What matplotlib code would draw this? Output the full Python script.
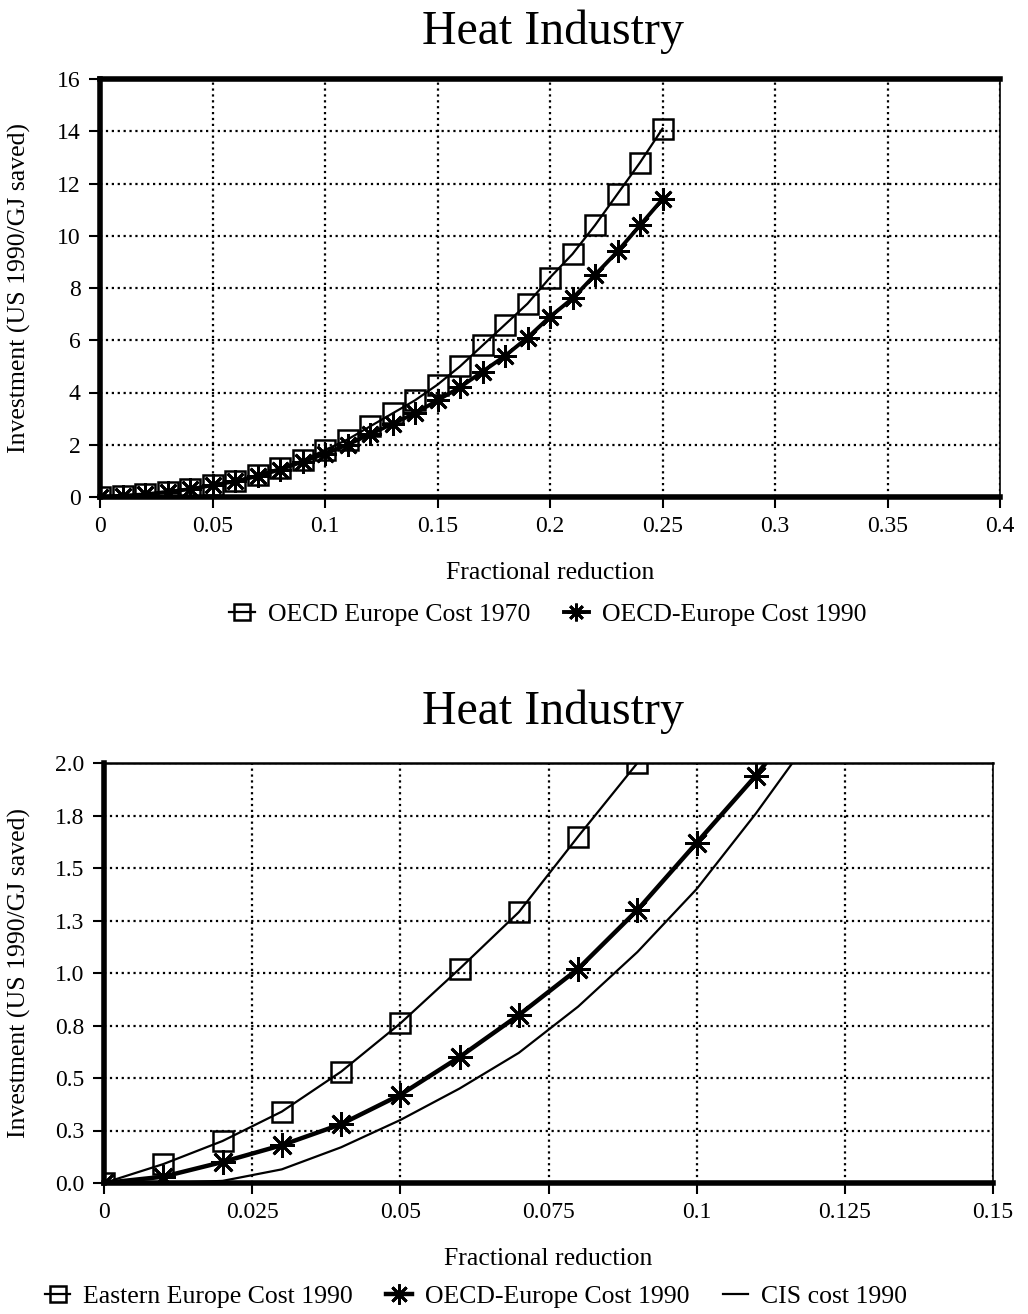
import matplotlib
matplotlib.use("Agg")
import matplotlib.pyplot as plt
import numpy as np

plt.rcParams['font.family'] = ['Liberation Serif', 'DejaVu Serif']

# ---- Top chart data ----
top_x = [0.00, 0.01, 0.02, 0.03, 0.04, 0.05, 0.06, 0.07, 0.08, 0.09, 0.10, 0.11, 0.12,
         0.13, 0.14, 0.15, 0.16, 0.17, 0.18, 0.19, 0.20, 0.21, 0.22, 0.23, 0.24, 0.25]
oecd_1970 = [0.0, 0.05, 0.1, 0.2, 0.3, 0.45, 0.6, 0.85, 1.1, 1.4, 1.8, 2.2, 2.7,
             3.2, 3.7, 4.3, 5.0, 5.8, 6.6, 7.4, 8.4, 9.3, 10.4, 11.6, 12.8, 14.1]
oecd_1990_top = [0.0, 0.05, 0.1, 0.2, 0.3, 0.45, 0.6, 0.8, 1.05, 1.35, 1.65, 2.0, 2.4,
                 2.8, 3.2, 3.7, 4.2, 4.8, 5.4, 6.1, 6.9, 7.6, 8.5, 9.4, 10.4, 11.4]
top_xticks = [0, 0.05, 0.1, 0.15, 0.2, 0.25, 0.3, 0.35, 0.4]
top_xlabels = ["0", "0.05", "0.1", "0.15", "0.2", "0.25", "0.3", "0.35", "0.4"]
top_yticks = [0, 2, 4, 6, 8, 10, 12, 14, 16]

# ---- Bottom chart data ----
eastern_x = [0.00, 0.01, 0.02, 0.03, 0.04, 0.05, 0.06, 0.07, 0.08, 0.09]
eastern_1990 = [0.0, 0.09, 0.2, 0.34, 0.53, 0.76, 1.02, 1.29, 1.65, 2.0]
oecd_x = [0.00, 0.01, 0.02, 0.03, 0.04, 0.05, 0.06, 0.07, 0.08, 0.09, 0.10, 0.11, 0.12]
oecd_1990_bot = [0.0, 0.03, 0.1, 0.18, 0.28, 0.42, 0.6, 0.8, 1.02, 1.3, 1.62, 1.94, 2.3]
cis_x = [0.00, 0.01, 0.02, 0.03, 0.04, 0.05, 0.06, 0.07, 0.08, 0.09, 0.10, 0.11, 0.12]
cis_1990 = [0.0, 0.0, 0.01, 0.065, 0.17, 0.3, 0.45, 0.62, 0.84, 1.1, 1.4, 1.76, 2.15]
bot_xticks = [0, 0.025, 0.05, 0.075, 0.1, 0.125, 0.15]
bot_xlabels = ["0", "0.025", "0.05", "0.075", "0.1", "0.125", "0.15"]
bot_yticks = [0, 0.25, 0.5, 0.75, 1.0, 1.25, 1.5, 1.75, 2.0]
bot_ylabels = ["0.0", "0.3", "0.5", "0.8", "1.0", "1.3", "1.5", "1.8", "2.0"]

W, H = 1028, 1314
fig = plt.figure(figsize=(W / 100, H / 100), dpi=100)

star = (8, 2, 0)

def style_axes(ax, thick_top):
    ax.grid(True, color='black', linestyle=':', linewidth=1.6)
    ax.set_axisbelow(True)
    for s in ['left', 'bottom']:
        ax.spines[s].set_linewidth(4)
    ax.spines['top'].set_linewidth(4 if thick_top else 1.8)
    ax.spines['right'].set_linewidth(1.2)
    ax.tick_params(axis='both', direction='out', length=8, width=1.5,
                   labelsize=17, pad=6)

# ---- Top axes ----
ax1 = fig.add_axes([100 / W, 1 - 497 / H, 900 / W, 418 / H])
ax1.plot(top_x, oecd_1970, color='black', lw=1.6, marker='s', ms=14,
         mfc='none', mec='black', mew=1.8, label='OECD Europe Cost 1970')
ax1.plot(top_x, oecd_1990_top, color='black', lw=2.8, marker=star, ms=16,
         mec='black', mew=2.0, label='OECD-Europe Cost 1990')
ax1.set_xlim(0, 0.4)
ax1.set_ylim(0, 16)
ax1.set_xticks(top_xticks)
ax1.set_xticklabels(top_xlabels)
ax1.set_yticks(top_yticks)
style_axes(ax1, True)
ax1.set_xlabel('Fractional reduction', fontsize=18.5, labelpad=18)
ax1.set_ylabel('Investment (US 1990/GJ saved)', fontsize=18.5)
ax1.yaxis.set_label_coords(-0.0767, 0.5)
fig.text(553 / W, 1 - 32 / H, 'Heat Industry', fontsize=34.5,
         ha='center', va='center')
fig.legend(handles=ax1.get_lines(), loc='center',
           bbox_to_anchor=(548 / W, 1 - 615 / H), ncol=2, frameon=False,
           fontsize=18.5, handlelength=1.0, handletextpad=0.5, columnspacing=1.3,
           markerscale=0.8)

# ---- Bottom axes ----
ax2 = fig.add_axes([104 / W, 1 - 1183 / H, 889 / W, 420 / H])
ax2.plot(eastern_x, eastern_1990, color='black', lw=1.6, marker='s', ms=14,
         mfc='none', mec='black', mew=1.8, label='Eastern Europe Cost 1990')
ax2.plot(oecd_x, oecd_1990_bot, color='black', lw=3.2, marker=star, ms=18,
         mec='black', mew=2.0, label='OECD-Europe Cost 1990')
ax2.plot(cis_x, cis_1990, color='black', lw=1.6, label='CIS cost 1990')
ax2.set_xlim(0, 0.15)
ax2.set_ylim(0, 2.0)
ax2.set_xticks(bot_xticks)
ax2.set_xticklabels(bot_xlabels)
ax2.set_yticks(bot_yticks)
ax2.set_yticklabels(bot_ylabels)
style_axes(ax2, False)
ax2.set_xlabel('Fractional reduction', fontsize=18.5, labelpad=18)
ax2.set_ylabel('Investment (US 1990/GJ saved)', fontsize=18.5)
ax2.yaxis.set_label_coords(-0.082, 0.5)
fig.text(553 / W, 1 - 712 / H, 'Heat Industry', fontsize=34.5,
         ha='center', va='center')
fig.legend(handles=ax2.get_lines(), loc='center',
           bbox_to_anchor=(476 / W, 1 - 1297 / H), ncol=3, frameon=False,
           fontsize=18.5, handlelength=1.0, handletextpad=0.5, columnspacing=1.3,
           markerscale=0.8)

fig.savefig('out.png', dpi=100)
